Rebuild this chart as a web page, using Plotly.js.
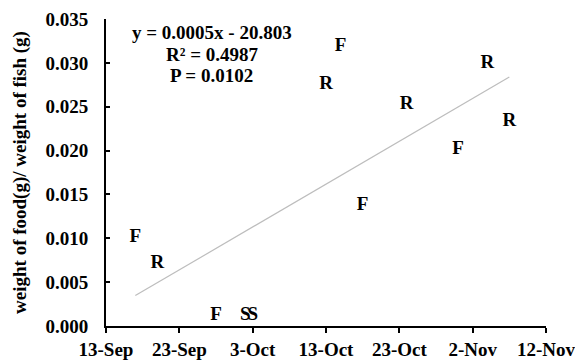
<!DOCTYPE html>
<html>
<head>
<meta charset="utf-8">
<script src="https://cdn.plot.ly/plotly-3.0.1.min.js"></script>
<style>html,body{margin:0;padding:0;background:#fff}#chart{width:575px;height:360px}</style>
</head>
<body>
<div id="chart"></div>
<script>
// Sampling dates, ratio values and sample labels
const dates = ["2013-09-17","2013-09-20","2013-09-28","2013-10-02","2013-10-03","2013-10-13","2013-10-15","2013-10-18","2013-10-24","2013-10-31","2013-11-04","2013-11-07"];
const ratios = [0.0101,0.0072,0.0012,0.0012,0.0012,0.0276,0.0319,0.0138,0.0253,0.0202,0.0300,0.0234];
const labels = ["F","R","F","S","S","R","F","F","R","F","R","R"];
const statLines = ["y = 0.0005x - 20.803","R\u00b2 = 0.4987","P = 0.0102"];
const xTickStart = "2013-09-13";
const xRange = ["2013-09-13","2013-11-12"];

// least-squares trendline computed from the data
const DAY = 86400000;
const xs = dates.map(d => Date.parse(d + "T00:00:00Z") / DAY);
const n = xs.length;
const mx = xs.reduce((a,b)=>a+b,0)/n;
const my = ratios.reduce((a,b)=>a+b,0)/n;
let sxx=0, sxy=0;
for (let i=0;i<n;i++){ sxx += (xs[i]-mx)**2; sxy += (xs[i]-mx)*(ratios[i]-my); }
const slope = sxy/sxx, icpt = my - slope*mx;
const xmin = Math.min(...xs), xmax = Math.max(...xs);
const toDate = v => new Date(v*DAY).toISOString().slice(0,10);
const trendX = [toDate(xmin), toDate(xmax)];
const trendY = [slope*xmin+icpt, slope*xmax+icpt];

const fam = "Liberation Serif, Times New Roman, serif";
const font = {family: fam, size: 19, color: "#000"};

const traces = [
  {x: trendX, y: trendY, mode: "lines", line: {color: "#bdbdbd", width: 1.2}, hoverinfo: "skip", showlegend: false},
  {x: dates, y: ratios, mode: "text", text: labels.map(t=>"<b>"+t+"</b>"), textposition: "middle center",
   textfont: font, showlegend: false}
];

const annY = [0.955, 0.885, 0.815];
const layout = {
  width: 575, height: 360,
  margin: {l: 106, r: 29, t: 19, b: 34},
  paper_bgcolor: "#fff", plot_bgcolor: "#fff",
  font: font,
  showlegend: false,
  xaxis: {
    type: "date", range: xRange, tick0: xTickStart, dtick: 10*DAY,
    tickformat: "%-d-%b", showgrid: false, zeroline: false,
    showline: true, linecolor: "#000", linewidth: 2,
    ticks: "outside", ticklen: 5, tickwidth: 2, tickcolor: "#000",
    ticklabeloverflow: "allow",
    tickfont: {family: fam, size: 19, color: "#000", weight: "bold"}
  },
  yaxis: {
    range: [0, 0.035], dtick: 0.005, tickformat: ".3f",
    showgrid: false, zeroline: false,
    showline: true, linecolor: "#000", linewidth: 2,
    ticks: "inside", ticklen: 4, tickwidth: 2, tickcolor: "#000",
    ticklabelstandoff: 12,
    tickfont: {family: fam, size: 19, color: "#000", weight: "bold"},
    title: {text: "<b>weight of food(g)/ weight of fish (g)</b>", font: {family: fam, size: 19, color: "#000"}, standoff: 14}
  },
  annotations: statLines.map((t,i) => ({
    xref: "paper", yref: "paper", x: 0.24, y: annY[i], xanchor: "center", yanchor: "middle",
    text: "<b>"+t+"</b>", showarrow: false, font: font
  }))
};

Plotly.newPlot("chart", traces, layout, {displayModeBar: false, staticPlot: true});
</script>
</body>
</html>
